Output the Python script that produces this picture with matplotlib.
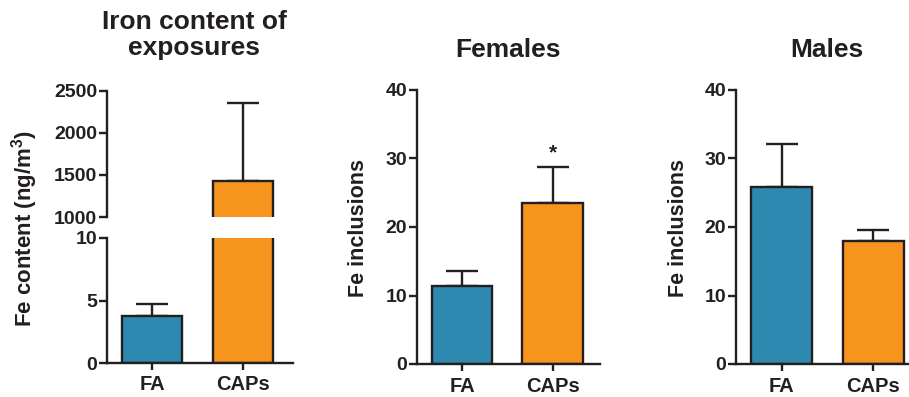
import matplotlib
matplotlib.use("Agg")
import matplotlib.pyplot as plt

plt.rcParams['font.family'] = ['Liberation Sans', 'DejaVu Sans']
plt.rcParams['font.weight'] = 'bold'
plt.rcParams['mathtext.fontset'] = 'custom'
plt.rcParams['mathtext.rm'] = 'Liberation Sans:bold'
plt.rcParams['mathtext.bf'] = 'Liberation Sans:bold'
plt.rcParams['mathtext.default'] = 'bf'

# data
groups = ['FA', 'CAPs']
iron_mean = [3.8, 1430]
iron_err = [0.95, 920]
fem_mean = [11.4, 23.5]
fem_err = [2.2, 5.3]
male_mean = [25.9, 18.0]
male_err = [6.2, 1.6]

blue = '#2E89B1'
orange = '#F7941D'
dark = '#231F20'
W, H = 909, 397

fig = plt.figure(figsize=(W / 100, H / 100), dpi=100)


def px_axes(x0, y0, x1, y1):
    # pixel box (top-left origin) -> figure axes
    return fig.add_axes([x0 / W, 1 - y1 / H, (x1 - x0) / W, (y1 - y0) / H])


def style(ax, xt=True):
    for s in ['top', 'right']:
        ax.spines[s].set_visible(False)
    for s in ['left', 'bottom']:
        ax.spines[s].set_linewidth(1.7)
        ax.spines[s].set_color(dark)
    ax.tick_params(axis='y', length=6, width=1.7, pad=1, labelsize=14, colors=dark)
    ax.tick_params(axis='x', length=5, width=1.7, pad=4, labelsize=14.5, colors=dark)
    if not xt:
        ax.spines['bottom'].set_visible(False)
        ax.set_xticks([])


def draw(ax, means, errs):
    x = range(len(means))
    ax.errorbar(x, means, yerr=[[0] * len(errs), errs], fmt='none', ecolor=dark,
                elinewidth=1.7, capsize=11.5, capthick=1.7, zorder=1)
    ax.bar(x, means, width=0.67, color=[blue, orange], edgecolor=dark,
           linewidth=1.7, zorder=2)


# panel 1 : broken axis
ax1b = px_axes(107, 238, 293, 363)
ax1t = px_axes(107, 90.7, 293, 217)
for ax in (ax1b, ax1t):
    draw(ax, iron_mean, iron_err)
    ax.set_xlim(-0.495, 1.55)
ax1b.set_ylim(0, 10)
ax1b.set_yticks([0, 5, 10])
ax1t.set_ylim(1000, 2500)
ax1t.set_yticks([1000, 1500, 2000, 2500])
style(ax1b)
style(ax1t, xt=False)
ax1b.set_xticks([0, 1])
ax1b.set_xticklabels(groups)
fig.text(25 / W, 1 - 229 / H, 'Fe content (ng/m$^{3}$)', rotation=90,
         ha='center', va='center', fontsize=16, color=dark)
fig.text(194 / W, 1 - 35 / H, 'Iron content of\nexposures', ha='center',
         va='center', fontsize=19, color=dark, linespacing=1.1)

# panel 2 : females
ax2 = px_axes(416.7, 90, 600, 364)
draw(ax2, fem_mean, fem_err)
ax2.set_xlim(-0.5, 1.52)
ax2.set_ylim(0, 40)
ax2.set_yticks([0, 10, 20, 30, 40])
ax2.set_xticks([0, 1])
ax2.set_xticklabels(groups)
style(ax2)
ax2.text(1, fem_mean[1] + fem_err[1] + 0.6, '*', ha='center', va='bottom',
         fontsize=15, color=dark)
fig.text(358 / W, 1 - 228 / H, 'Fe inclusions', rotation=90, ha='center',
         va='center', fontsize=15.5, color=dark)
fig.text(508 / W, 1 - 50 / H, 'Females', ha='center', va='center', fontsize=19,
         color=dark)

# panel 3 : males
ax3 = px_axes(736, 90, 909, 364)
draw(ax3, male_mean, male_err)
ax3.set_xlim(-0.5, 1.39)
ax3.set_ylim(0, 40)
ax3.set_yticks([0, 10, 20, 30, 40])
ax3.set_xticks([0, 1])
ax3.set_xticklabels(groups)
style(ax3)
fig.text(678 / W, 1 - 228 / H, 'Fe inclusions', rotation=90, ha='center',
         va='center', fontsize=15.5, color=dark)
fig.text(827 / W, 1 - 50 / H, 'Males', ha='center', va='center', fontsize=19,
         color=dark)

fig.savefig('out.png', dpi=100)
